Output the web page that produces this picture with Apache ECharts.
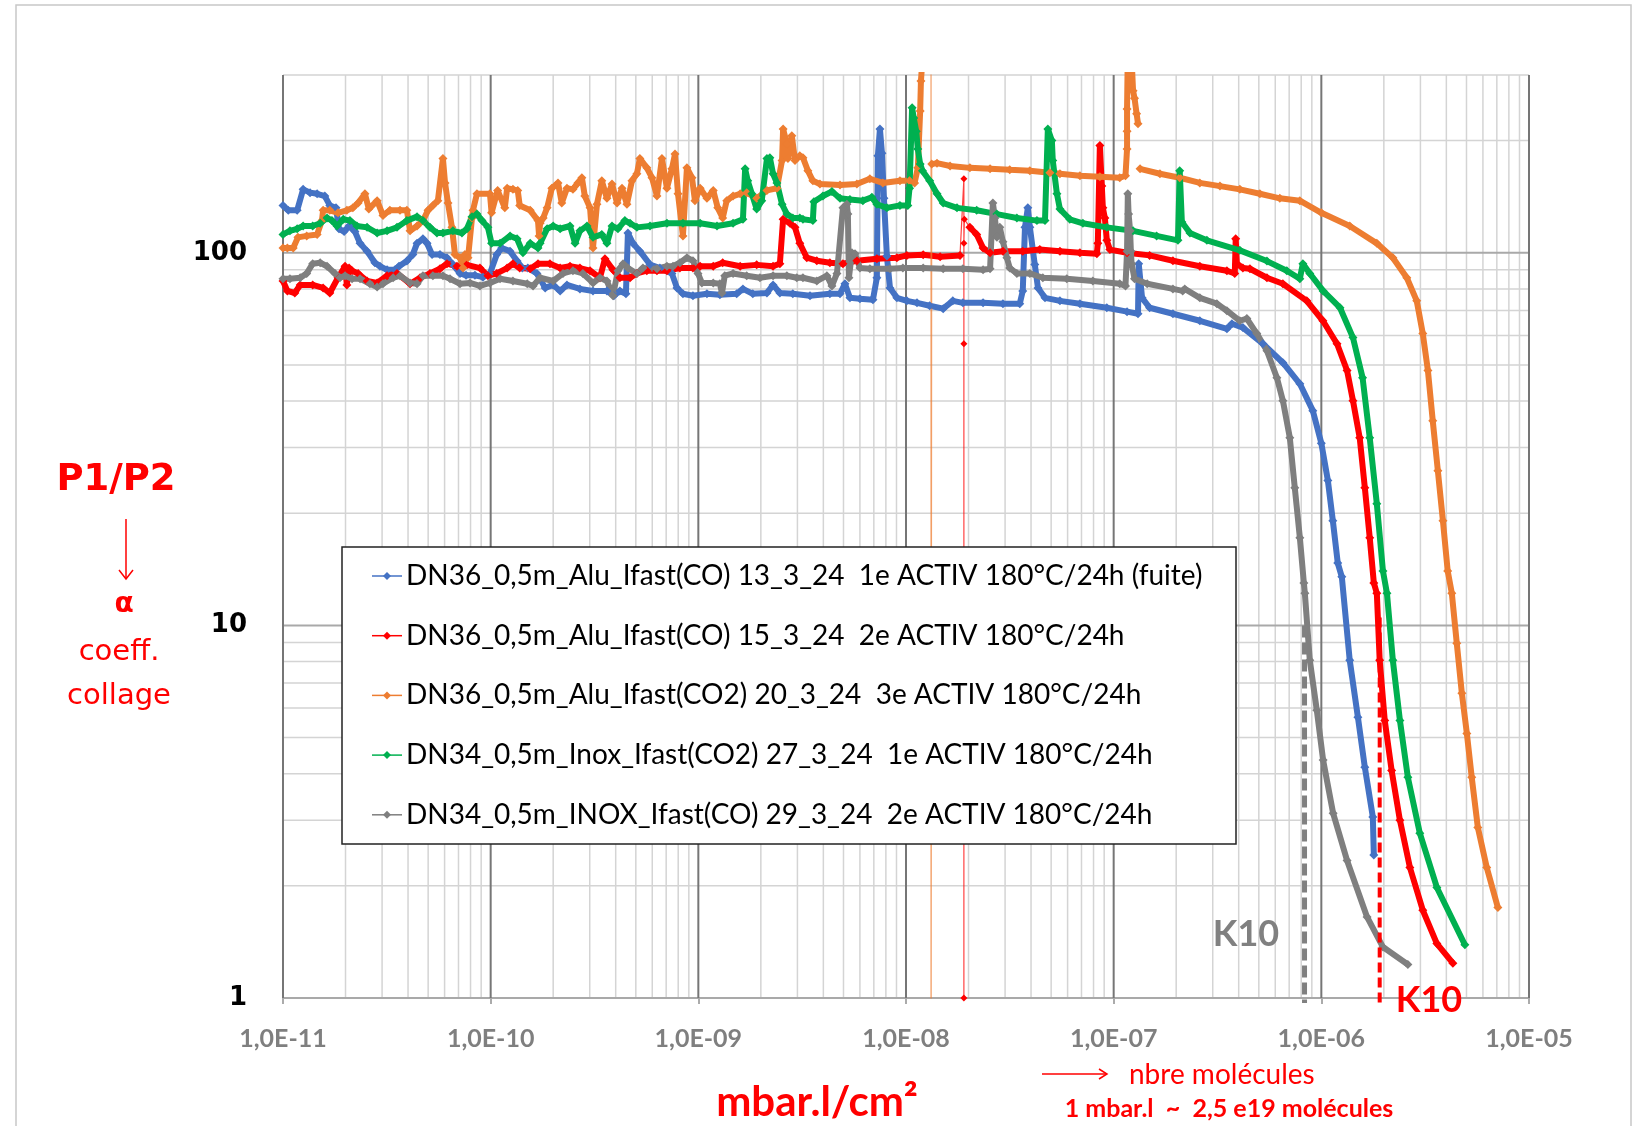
<!DOCTYPE html>
<html>
<head>
<meta charset="utf-8">
<script src="https://cdn.jsdelivr.net/npm/echarts/dist/echarts.min.js"></script>
<style>
  html, body { margin: 0; padding: 0; background: #fff; }
  #chart { width: 1642px; height: 1126px; }
</style>
</head>
<body>
<div id="chart"></div>
<script>
// series names (legend order) and colours
const seriesNames = [
  'DN36_0,5m_Alu_Ifast(CO) 13_3_24  1e ACTIV 180°C/24h (fuite)',
  'DN36_0,5m_Alu_Ifast(CO) 15_3_24  2e ACTIV 180°C/24h',
  'DN36_0,5m_Alu_Ifast(CO2) 20_3_24  3e ACTIV 180°C/24h',
  'DN34_0,5m_Inox_Ifast(CO2) 27_3_24  1e ACTIV 180°C/24h',
  'DN34_0,5m_INOX_Ifast(CO) 29_3_24  2e ACTIV 180°C/24h'
];
const seriesColors = ['#4472C4', '#FF0000', '#ED7D31', '#00B050', '#7F7F7F'];

// tick values and labels
const xTicks = [1e-11, 1e-10, 1e-9, 1e-8, 1e-7, 1e-6, 1e-5];
const xLabels = ['1,0E-11', '1,0E-10', '1,0E-09', '1,0E-08', '1,0E-07', '1,0E-06', '1,0E-05'];
const yTicks = [1, 10, 100];
const yLabels = ['1', '10', '100'];
const yMax = 300;

// [mbar.l/cm2, P1/P2]
const blueData = [[1.0e-11,134],[1.06e-11,130],[1.17e-11,130],[1.25e-11,148],[1.35e-11,145],[1.46e-11,144],[1.59e-11,142],[1.68e-11,134],[1.80e-11,132],[1.86e-11,116],[1.97e-11,114],[2.08e-11,118],[2.22e-11,114],[2.35e-11,106],[2.54e-11,101],[2.77e-11,94],[2.93e-11,92],[3.17e-11,90],[3.46e-11,90],[3.62e-11,92],[3.95e-11,95],[4.22e-11,99],[4.42e-11,106],[4.72e-11,109],[4.94e-11,106],[5.22e-11,99],[5.70e-11,99],[6.16e-11,97],[6.58e-11,93],[7.12e-11,88],[7.61e-11,87],[8.40e-11,87],[9.18e-11,86],[9.92e-11,88],[1.07e-10,99],[1.13e-10,103],[1.24e-10,101],[1.34e-10,95],[1.42e-10,91],[1.51e-10,91],[1.67e-10,88],[1.83e-10,80.5],[2.0e-10,82],[2.16e-10,79],[2.33e-10,82],[2.69e-10,80],[3.11e-10,79],[3.63e-10,79],[3.92e-10,76.7],[4.19e-10,79],[4.48e-10,77.6],[4.58e-10,113],[4.84e-10,106],[5.23e-10,101],[5.85e-10,93],[6.53e-10,91],[7.46e-10,88],[7.89e-10,80.5],[8.43e-10,77.6],[9.42e-10,76.7],[1.10e-9,77.6],[1.27e-9,77.1],[1.53e-9,77.6],[1.64e-9,80],[1.83e-9,77.6],[2.14e-9,78],[2.29e-9,82],[2.47e-9,78],[2.85e-9,77.6],[3.45e-9,76.7],[4.30e-9,77.6],[4.81e-9,77.6],[5.08e-9,82.6],[5.37e-9,75.7],[6.0e-9,75.3],[6.93e-9,74.8],[7.24e-9,85.7],[7.32e-9,182],[7.49e-9,215],[7.66e-9,185],[7.83e-9,140],[8.09e-9,98],[8.37e-9,80.5],[9.04e-9,75.7],[1.01e-8,74.3],[1.13e-8,73.4],[1.30e-8,72.1],[1.51e-8,70.8],[1.68e-8,74.3],[1.88e-8,73.4],[2.35e-8,73.4],[2.93e-8,73],[3.53e-8,73],[3.65e-8,79],[3.74e-8,117],[3.86e-8,132],[3.95e-8,117],[4.17e-8,93],[4.32e-8,80.5],[4.67e-8,75.7],[5.51e-8,74.3],[6.88e-8,73],[9.27e-8,71.2],[1.16e-7,69.5],[1.31e-7,68.6],[1.32e-7,93.5],[1.37e-7,75.7],[1.49e-7,71.2],[1.93e-7,68.6],[2.60e-7,65.7],[3.51e-7,62.5],[3.71e-7,64.5],[4.19e-7,63],[5.23e-7,57],[6.53e-7,50.7],[7.88e-7,44.5],[9.10e-7,37.7],[1.0e-6,30.8],[1.075e-6,24.5],[1.136e-6,19.1],[1.20e-6,14.7],[1.255e-6,13.5],[1.37e-6,8.06],[1.50e-6,5.67],[1.62e-6,4.16],[1.77e-6,3.06],[1.79e-6,2.42]];

const redData = [[1.0e-11,84],[1.05e-11,79],[1.14e-11,78],[1.21e-11,82],[1.39e-11,82],[1.56e-11,80.5],[1.68e-11,78],[1.84e-11,85.7],[1.99e-11,92],[2.03e-11,82],[2.08e-11,91],[2.15e-11,89.5],[2.30e-11,88],[2.54e-11,84],[2.84e-11,83],[3.17e-11,86.8],[3.54e-11,88],[4.09e-11,82.6],[4.57e-11,85.7],[5.10e-11,88],[5.70e-11,90.6],[6.16e-11,93.5],[6.88e-11,92],[7.69e-11,92.8],[8.88e-11,91],[9.7e-11,86.8],[1.07e-10,88],[1.20e-10,91],[1.28e-10,93.5],[1.38e-10,91],[1.55e-10,90.6],[1.69e-10,93.5],[1.93e-10,93.5],[2.16e-10,91],[2.41e-10,92],[2.69e-10,91],[3.01e-10,89.5],[3.36e-10,85.7],[3.55e-10,96.4],[3.88e-10,90],[4.19e-10,85.7],[4.69e-10,85.7],[5.06e-10,88],[5.65e-10,89.5],[6.32e-10,89.5],[7.06e-10,89.5],[8.15e-10,91],[9.42e-10,91],[1.02e-9,92],[1.18e-9,92],[1.31e-9,94],[1.59e-9,92],[1.91e-9,92.8],[2.29e-9,92],[2.47e-9,93.5],[2.56e-9,123],[2.76e-9,120],[2.92e-9,117],[3.08e-9,106],[3.33e-9,97],[3.72e-9,95.2],[4.30e-9,94],[4.97e-9,93.5],[5.80e-9,95.2],[7.24e-9,96.4],[9.04e-9,97],[1.01e-8,98.4],[1.21e-8,98.8],[1.46e-8,97.6],[1.82e-8,98.4],[1.9e-8,'-'],[2.03e-8,117],[2.19e-8,112],[2.35e-8,103],[2.54e-8,100],[2.93e-8,101],[3.65e-8,101],[4.41e-8,102],[5.51e-8,101],[6.88e-8,100],[8.30e-8,99.4],[8.39e-8,106],[8.58e-8,194],[8.77e-8,151],[8.87e-8,132],[9.07e-8,124],[9.27e-8,108],[9.59e-8,102],[1.16e-7,100],[1.49e-7,98.4],[1.93e-7,95.2],[2.60e-7,92],[3.51e-7,89.5],[3.83e-7,88],[3.87e-7,109],[3.92e-7,93.5],[4.19e-7,91],[4.53e-7,90.6],[5.47e-7,85.7],[6.53e-7,82.6],[8.51e-7,74.3],[1.017e-6,65.7],[1.19e-6,57],[1.33e-6,48.3],[1.42e-6,40.1],[1.53e-6,31.9],[1.62e-6,23.4],[1.71e-6,17.2],[1.79e-6,13.0],[1.85e-6,12.2],[1.91e-6,8.06],[2.02e-6,5.56],[2.18e-6,4.08],[2.39e-6,3.0],[2.67e-6,2.24],[3.08e-6,1.72],[3.60e-6,1.40],[4.30e-6,1.24]];
const redSpike = [[1.82e-8,98.4],[1.90e-8,158],[1.90e-8,57],[1.90e-8,1],[1.90e-8,106],[1.91e-8,123],[2.03e-8,117]];

const orangeData = [[1.0e-11,103],[1.05e-11,103],[1.12e-11,103],[1.18e-11,110],[1.30e-11,111],[1.46e-11,112],[1.54e-11,122],[1.56e-11,130],[1.68e-11,130],[1.84e-11,128],[2.03e-11,130],[2.17e-11,132],[2.30e-11,136],[2.48e-11,144],[2.59e-11,131],[2.84e-11,138],[3.03e-11,126],[3.27e-11,130],[3.66e-11,130],[3.95e-11,130],[4.09e-11,114.5],[4.42e-11,118],[4.72e-11,122],[4.99e-11,130],[5.27e-11,134],[5.57e-11,138],[5.89e-11,179],[6.03e-11,154],[6.23e-11,136],[6.51e-11,117],[6.73e-11,99],[7.12e-11,97],[7.36e-11,91],[7.52e-11,99],[7.78e-11,97],[8.13e-11,124],[8.22e-11,130],[8.59e-11,144],[9.92e-11,144],[1.01e-10,128],[1.08e-10,147],[1.17e-10,132],[1.20e-10,149],[1.28e-10,148],[1.35e-10,147],[1.38e-10,134],[1.55e-10,130],[1.69e-10,122],[1.71e-10,111],[1.73e-10,120],[1.79e-10,124],[1.87e-10,132],[1.97e-10,149],[2.11e-10,154],[2.20e-10,136],[2.33e-10,149],[2.49e-10,148],[2.63e-10,154],[2.75e-10,159],[2.84e-10,142],[3.01e-10,132],[3.11e-10,103],[3.25e-10,135],[3.43e-10,156],[3.63e-10,140],[3.84e-10,153],[4.06e-10,136],[4.29e-10,149],[4.53e-10,135],[4.79e-10,156],[5.06e-10,163],[5.23e-10,179],[5.65e-10,169],[5.98e-10,159],[6.32e-10,142],[6.68e-10,179],[7.06e-10,149],[7.46e-10,168],[7.72e-10,184],[7.98e-10,144],[8.43e-10,111],[8.81e-10,169],[9.32e-10,159],[9.63e-10,138],[1.02e-9,149],[1.10e-9,140],[1.18e-9,147],[1.24e-9,132],[1.31e-9,124],[1.37e-9,138],[1.47e-9,142],[1.59e-9,144],[1.71e-9,145],[1.91e-9,140],[2.14e-9,147],[2.39e-9,149],[2.53e-9,177],[2.56e-9,215],[2.67e-9,196],[2.70e-9,179],[2.82e-9,206],[2.92e-9,177],[3.08e-9,182],[3.19e-9,180],[3.37e-9,166],[3.56e-9,156],[3.85e-9,153],[4.81e-9,152],[5.80e-9,153],[6.70e-9,158],[7.74e-9,154],[9.35e-9,156],[1.04e-8,156],[1.10e-8,154],[1.14e-8,169],[1.17e-8,240],[1.18e-8,289],[1.20e-8,330],[1.25e-8,'-'],[1.33e-8,173],[1.41e-8,174],[1.63e-8,171],[2.03e-8,169],[2.54e-8,168],[3.16e-8,167],[3.95e-8,166],[4.93e-8,164],[5.51e-8,163],[6.88e-8,161],[8.58e-8,160],[1.07e-7,159],[1.14e-7,161],[1.16e-7,190],[1.16e-7,212],[1.16e-7,243],[1.18e-7,500],[1.24e-7,272],[1.26e-7,260],[1.29e-7,236],[1.31e-7,222],[1.32e-7,'-'],[1.34e-7,168],[1.67e-7,163],[2.08e-7,159],[2.60e-7,154],[3.25e-7,151],[4.05e-7,148],[5.06e-7,144],[6.31e-7,140],[7.88e-7,138],[1.0e-6,128],[1.37e-6,118],[1.85e-6,106],[2.21e-6,97],[2.58e-6,85.7],[2.88e-6,74.3],[3.08e-6,60.7],[3.26e-6,48.3],[3.44e-6,35.4],[3.64e-6,26.0],[3.85e-6,19.1],[4.06e-6,14.0],[4.25e-6,12.2],[4.49e-6,8.95],[4.75e-6,6.57],[5.02e-6,5.13],[5.30e-6,3.91],[5.67e-6,2.87],[6.26e-6,2.24],[7.08e-6,1.75]];
const orangeSpike = [[1.20e-8,330],[1.32e-8,3000],[1.32e-8,0.3],[1.33e-8,173]];

const greenData = [[1.0e-11,112],[1.08e-11,114.5],[1.17e-11,116],[1.25e-11,118],[1.39e-11,118],[1.51e-11,120],[1.63e-11,124],[1.72e-11,122],[1.82e-11,118],[1.95e-11,123],[2.10e-11,122],[2.27e-11,118],[2.54e-11,117],[2.84e-11,113],[3.17e-11,114.5],[3.54e-11,117],[3.95e-11,122],[4.42e-11,125],[4.72e-11,122],[5.10e-11,117],[5.51e-11,113],[5.89e-11,113],[6.58e-11,114.5],[7.27e-11,113],[7.69e-11,116],[8.13e-11,125],[8.59e-11,127],[9.08e-11,122],[9.7e-11,117],[1.01e-10,106],[1.11e-10,106],[1.24e-10,111],[1.34e-10,109],[1.43e-10,100],[1.55e-10,106],[1.69e-10,103],[1.73e-10,106],[1.87e-10,116],[2.0e-10,118],[2.16e-10,116],[2.41e-10,118],[2.55e-10,106],[2.69e-10,114.5],[2.91e-10,118],[3.11e-10,110],[3.43e-10,112],[3.63e-10,106],[3.84e-10,118],[4.10e-10,116],[4.43e-10,122],[4.69e-10,120],[5.06e-10,117],[5.85e-10,118],[7.06e-10,120],[8.43e-10,120],[1.02e-9,120],[1.23e-9,118],[1.47e-9,120],[1.64e-9,123],[1.68e-9,168],[1.73e-9,156],[1.81e-9,144],[1.91e-9,131],[2.02e-9,138],[2.14e-9,179],[2.21e-9,180],[2.29e-9,163],[2.39e-9,154],[2.53e-9,135],[2.67e-9,127],[2.85e-9,124],[3.08e-9,124],[3.19e-9,123],[3.56e-9,122],[3.60e-9,137],[3.98e-9,142],[4.40e-9,146],[4.81e-9,140],[5.37e-9,139],[6.20e-9,138],[6.85e-9,141],[7.24e-9,135],[8.09e-9,132],[9.35e-9,134],[1.02e-8,134],[1.04e-8,149],[1.07e-8,245],[1.09e-8,230],[1.12e-8,212],[1.14e-8,190],[1.17e-8,173],[1.20e-8,166],[1.30e-8,156],[1.41e-8,144],[1.51e-8,136],[1.76e-8,132],[2.19e-8,130],[2.74e-8,127],[3.42e-8,124],[4.27e-8,122],[4.67e-8,122],[4.82e-8,215],[5.04e-8,200],[5.09e-8,177],[5.33e-8,144],[5.51e-8,131],[6.15e-8,123],[7.11e-8,120],[9.27e-8,117],[1.24e-7,114.5],[1.61e-7,111],[2.04e-7,108],[2.08e-7,166],[2.13e-7,121],[2.33e-7,113],[2.81e-7,108],[4.05e-7,101.5],[5.47e-7,95],[6.82e-7,89.5],[7.88e-7,85.2],[8.15e-7,93.5],[8.80e-7,88],[1.02e-6,79],[1.23e-6,71.2],[1.42e-6,59.2],[1.58e-6,46.2],[1.71e-6,31.9],[1.85e-6,21.2],[1.98e-6,14.0],[2.07e-6,12.2],[2.21e-6,8.06],[2.39e-6,5.56],[2.61e-6,3.91],[2.98e-6,2.77],[3.60e-6,1.98],[4.91e-6,1.39]];

const grayData = [[1.0e-11,85.2],[1.08e-11,85.2],[1.21e-11,85.7],[1.30e-11,88],[1.39e-11,93.5],[1.51e-11,94],[1.63e-11,92],[1.78e-11,88],[1.88e-11,85.7],[1.99e-11,86.8],[2.15e-11,85.2],[2.35e-11,85.2],[2.62e-11,82.6],[2.84e-11,81],[3.03e-11,82.6],[3.39e-11,85.7],[3.66e-11,86.8],[4.09e-11,83],[4.42e-11,82.6],[4.72e-11,86.8],[5.27e-11,86.8],[5.89e-11,86.8],[6.37e-11,85.2],[7.12e-11,82.6],[7.95e-11,83],[8.88e-11,81.5],[9.92e-11,83],[1.11e-10,85.2],[1.28e-10,84],[1.50e-10,82.6],[1.60e-10,81.5],[1.73e-10,85.7],[2.0e-10,84],[2.23e-10,88],[2.49e-10,89.5],[2.78e-10,88],[3.11e-10,83],[3.36e-10,85.7],[3.63e-10,84],[3.88e-10,76.7],[4.10e-10,89.5],[4.34e-10,93.5],[4.58e-10,91],[5.06e-10,88],[5.41e-10,91],[6.32e-10,90.6],[7.06e-10,92],[7.55e-10,92],[8.15e-10,94],[8.81e-10,97],[9.42e-10,95.2],[9.96e-10,88],[1.04e-9,83],[1.18e-9,83],[1.27e-9,82.6],[1.30e-9,78],[1.34e-9,86.8],[1.47e-9,88],[1.71e-9,86.8],[1.98e-9,85.7],[2.29e-9,86.8],[2.67e-9,86.8],[2.98e-9,85.7],[3.19e-9,85.7],[3.72e-9,84],[4.16e-9,86.8],[4.40e-9,81.5],[4.65e-9,88],[4.97e-9,132],[5.19e-9,135],[5.25e-9,127],[5.31e-9,85.7],[5.49e-9,100],[5.68e-9,99.4],[6.0e-9,91],[6.70e-9,90.6],[8.37e-9,90.6],[9.66e-9,91],[1.21e-8,91],[1.51e-8,90.6],[1.88e-8,90.6],[2.35e-8,90],[2.54e-8,90.6],[2.62e-8,136],[2.68e-8,124],[2.74e-8,110],[2.83e-8,117],[2.93e-8,107],[3.06e-8,97],[3.16e-8,91],[3.42e-8,88],[3.95e-8,88],[4.56e-8,85.7],[5.95e-8,85.2],[7.94e-8,84],[1.07e-7,82.6],[1.14e-7,81.5],[1.16e-7,101],[1.17e-7,144],[1.18e-7,127],[1.20e-7,114.5],[1.21e-7,101],[1.22e-7,93.5],[1.26e-7,85.2],[1.45e-7,82.6],[1.93e-7,80],[2.15e-7,79],[2.20e-7,80],[2.60e-7,75.7],[3.14e-7,73],[3.51e-7,69.9],[4.05e-7,65.7],[4.38e-7,66.6],[4.89e-7,60.7],[5.47e-7,54.6],[6.11e-7,46.2],[6.53e-7,40.1],[7.05e-7,31.9],[7.45e-7,23.4],[7.88e-7,17.2],[8.24e-7,13.0],[8.33e-7,12.2],[8.80e-7,8.06],[9.51e-7,5.92],[1.02e-6,4.35],[1.14e-6,3.13],[1.33e-6,2.34],[1.66e-6,1.65],[1.98e-6,1.37],[2.61e-6,1.23]];

// K10 markers (dashed verticals)
const k10Gray = [[8.3e-7, 10], [8.3e-7, 0.97]];
const k10Red = [[1.91e-6, 10.5], [1.91e-6, 0.97]];

// excel-like log grid, drawn as broken line segments
const xMin = xTicks[0], xMax = xTicks[xTicks.length - 1];
const minorGrid = [], yMajorGrid = [], xMajorGrid = [];
for (let i = 0; i < xTicks.length - 1; i++) {
  for (let m = 2; m <= 9; m++) {
    const v = m * xTicks[i];
    minorGrid.push([v, 1], [v, yMax], [v, '-']);
  }
}
for (let i = 0; i < yTicks.length; i++) {
  for (let m = 2; m <= 9; m++) {
    const v = m * yTicks[i];
    if (v <= yMax) minorGrid.push([xMin, v], [xMax, v], [xMax, '-']);
  }
}
yTicks.forEach(function (v) { yMajorGrid.push([xMin, v], [xMax, v], [xMax, '-']); });
xTicks.forEach(function (v) { xMajorGrid.push([v, 1], [v, yMax], [v, '-']); });

function tickIndex(ticks, v) {
  const lv = Math.log10(v);
  for (let i = 0; i < ticks.length; i++) {
    if (Math.abs(Math.log10(ticks[i]) - lv) < 1e-6) return i;
  }
  return -1;
}

function gridSeries(data, color, width) {
  return {
    type: 'line',
    data: data,
    z: 1,
    silent: true,
    clip: false,
    symbol: 'none',
    connectNulls: false,
    lineStyle: { color: color, width: width },
    animation: false
  };
}

function mainSeries(data, color) {
  return {
    type: 'line',
    data: data,
    symbol: 'diamond',
    symbolSize: 9,
    itemStyle: { color: color },
    lineStyle: { color: color, width: 6 },
    animation: false
  };
}

function thinSeries(data, color) {
  return {
    type: 'line',
    data: data,
    symbol: 'diamond',
    symbolSize: 7,
    itemStyle: { color: color },
    lineStyle: { color: color, width: 1.2, opacity: 0.75 },
    animation: false
  };
}

function dashSeries(data, color, width, dash) {
  return {
    type: 'line',
    data: data,
    z: 4,
    clip: false,
    symbol: 'none',
    lineStyle: { color: color, width: width, type: dash },
    animation: false
  };
}

function centered(text, x, y, fill, font) {
  return { type: 'text', x: x, y: y, z: 10,
    style: { text: text, fill: fill, font: font, align: 'center', verticalAlign: 'middle', textAlign: 'center', textVerticalAlign: 'middle' } };
}

// legend box drawn as graphic elements, one row per series
const legendTop = 547, legendRow = 59.7;
const legendGraphics = [
  { type: 'rect', z: 20, silent: true, shape: { x: 342, y: legendTop, width: 894, height: 297 },
    style: { fill: '#fff', stroke: '#222', lineWidth: 1.5 } }
];
seriesNames.forEach(function (name, i) {
  const cy = legendTop + 29 + i * legendRow;
  legendGraphics.push({ type: 'line', z: 21, shape: { x1: 372, y1: cy, x2: 402, y2: cy },
    style: { stroke: seriesColors[i], lineWidth: 1.5 } });
  legendGraphics.push({ type: 'polygon', z: 21, shape: { points: [[387, cy - 4], [391, cy], [387, cy + 4], [383, cy]] },
    style: { fill: seriesColors[i] } });
  legendGraphics.push({ type: 'text', z: 21, x: 406, y: cy,
    style: { text: name, fill: '#000', font: '28px Lato', align: 'left', verticalAlign: 'middle', textAlign: 'left', textVerticalAlign: 'middle' } });
});

const chart = echarts.init(document.getElementById('chart'), null, { renderer: 'canvas' });

const option = {
  animation: false,
  backgroundColor: '#fff',
  textStyle: { fontFamily: 'Lato' },
  grid: {
    left: 283, top: 75, width: 1246, height: 923,
    containLabel: false, outerBoundsMode: 'none'
  },
  xAxis: {
    type: 'log',
    logBase: 10,
    min: xMin,
    max: xMax,
    splitLine: { show: false },
    axisLine: { show: false },
    axisTick: { show: true, length: 6, lineStyle: { color: '#909090', width: 1.5 } },
    axisLabel: {
      margin: 28,
      showMinLabel: true,
      showMaxLabel: true,
      color: '#7f7f7f',
      fontFamily: 'Lato',
      fontWeight: 'bold',
      fontSize: 25,
      formatter: function (v) {
        const i = tickIndex(xTicks, v);
        return i >= 0 ? xLabels[i] : '';
      }
    }
  },
  yAxis: {
    type: 'log',
    logBase: 10,
    min: 1,
    max: yMax,
    splitLine: { show: false },
    axisLine: { show: false },
    axisTick: { show: false },
    axisLabel: {
      margin: 36,
      color: '#000',
      fontFamily: 'DejaVu Sans',
      fontWeight: 'bold',
      fontSize: 26,
      formatter: function (v) {
        const i = tickIndex(yTicks, v);
        return i >= 0 ? yLabels[i] : '';
      }
    }
  },
  series: [
    gridSeries(minorGrid, '#d4d4d4', 1.5),
    gridSeries(yMajorGrid, '#a9a9a9', 2),
    gridSeries(xMajorGrid, '#767676', 2),
    mainSeries(blueData, seriesColors[0]),
    thinSeries(redSpike, seriesColors[1]),
    mainSeries(redData, seriesColors[1]),
    thinSeries(orangeSpike, seriesColors[2]),
    mainSeries(orangeData, seriesColors[2]),
    mainSeries(greenData, seriesColors[3]),
    mainSeries(grayData, seriesColors[4]),
    dashSeries(k10Gray, '#808080', 5, [12, 5]),
    dashSeries(k10Red, '#ff0000', 4, [10, 5])
  ],
  graphic: [
    { type: 'rect', z: 0, silent: true, shape: { x: 16, y: 5, width: 1615, height: 1200 },
      style: { fill: 'none', stroke: '#c8c8c8', lineWidth: 1.5 } },
    centered('P1/P2', 116, 480, '#ff0000', 'bold 37px "DejaVu Sans"'),
    { type: 'line', z: 10, shape: { x1: 126, y1: 519, x2: 126, y2: 579 }, style: { stroke: '#ff0000', lineWidth: 1.5 } },
    { type: 'polyline', z: 10, shape: { points: [[119, 570], [126, 579], [133, 570]] }, style: { stroke: '#ff0000', lineWidth: 1.5, fill: 'none' } },
    centered('α', 124, 605, '#ff0000', 'bold 28px "DejaVu Sans"'),
    centered('coeff.', 119, 652, '#ff0000', '29px "DejaVu Sans"'),
    centered('collage', 119, 696, '#ff0000', '29px "DejaVu Sans"'),
    centered('K10', 1246, 934, '#808080', 'bold 36px Lato'),
    centered('K10', 1429, 1000, '#ff0000', 'bold 36px Lato'),
    centered('mbar.l/cm²', 817, 1102, '#ff0000', 'bold 42px Lato'),
    { type: 'line', z: 10, shape: { x1: 1042, y1: 1074, x2: 1107, y2: 1074 }, style: { stroke: '#ff0000', lineWidth: 1.5 } },
    { type: 'polyline', z: 10, shape: { points: [[1099, 1069], [1107, 1074], [1099, 1079]] }, style: { stroke: '#ff0000', lineWidth: 1.5, fill: 'none' } },
    { type: 'text', x: 1129, y: 1075, z: 10,
      style: { text: 'nbre molécules', fill: '#ff0000', font: '28px Lato', align: 'left', verticalAlign: 'middle', textAlign: 'left', textVerticalAlign: 'middle' } },
    centered('1 mbar.l  ~  2,5 e19 molécules', 1229, 1109, '#ff0000', 'bold 25px Lato')
  ].concat(legendGraphics)
};

chart.setOption(option);
window.addEventListener('resize', chart.resize);
</script>
</body>
</html>
